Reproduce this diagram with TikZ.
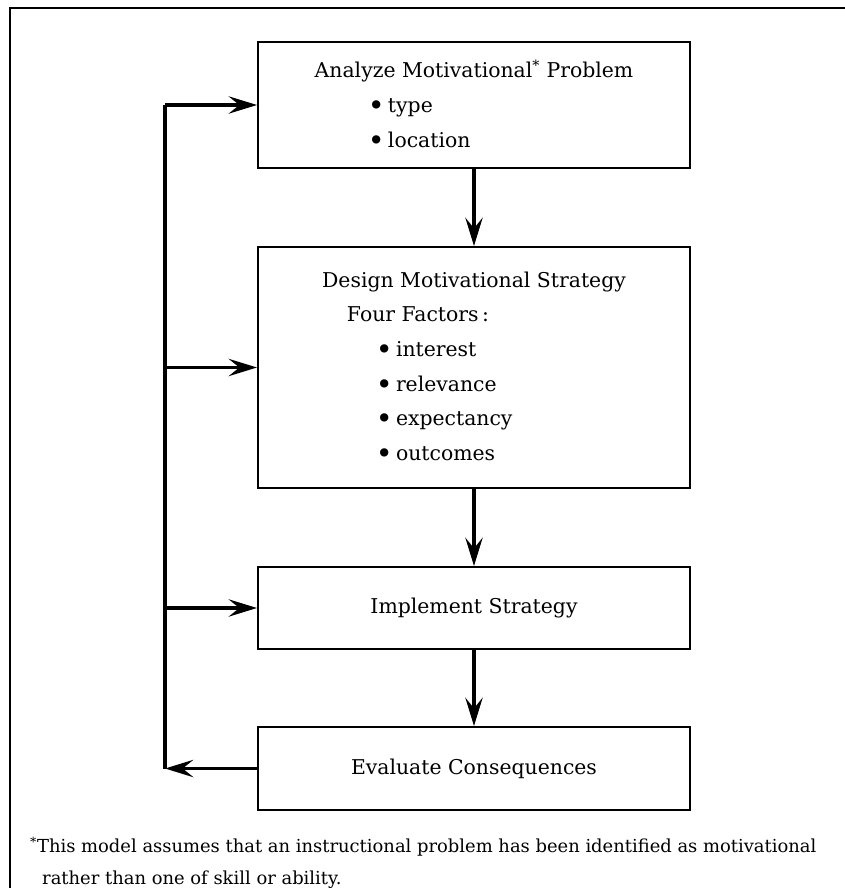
\documentclass[tikz,border=0pt]{standalone}
\usepackage{fontspec}
\setmainfont{DejaVu Serif}
\usetikzlibrary{arrows.meta}
\usetikzlibrary{positioning}

\newcommand{\bulitem}[2]{\makebox[#1][l]{\makebox[0.6cm][l]{\raisebox{-0.15em}{\scalebox{1.4}{\textbullet}}}#2}}

\begin{document}
\begin{tikzpicture}[x=0.03cm,y=-0.03cm,
  stage/.style={draw,line width=1.7pt,minimum width=12.96cm,inner sep=0pt,
    align=center,font=\fontsize{17.4}{29.6}\selectfont},
  flow/.style={line width=2.6pt,-{Stealth[length=8.5mm,width=5.2mm,inset=3.2mm]}},
  loop/.style={line width=2.6pt},
]
\useasboundingbox (0,0) rectangle (845,888);
\draw[line width=2.2pt] (10,888) -- (10,8) -- (845,8);

\node[stage,minimum height=3.78cm](analyze) at(474,105){Analyze Motivational\textsuperscript{*} Problem\\
  \bulitem{6.36cm}{type}\\ \bulitem{6.36cm}{location}};
\node[stage,minimum height=7.23cm](design) at(474,367.5){Design Motivational Strategy\\
  \makebox[7.62cm][l]{Four Factors\,:}\\
  \bulitem{5.88cm}{interest}\\ \bulitem{5.88cm}{relevance}\\
  \bulitem{5.88cm}{expectancy}\\ \bulitem{5.88cm}{outcomes}};
\node[stage,minimum height=2.46cm](implement) at(474,608){Implement Strategy};
\node[stage,minimum height=2.49cm](evaluate) at(474,768.5){Evaluate Consequences};

\coordinate(fbottom) at(165,768.5); \coordinate(ftop) at(165,105);
\coordinate(fdesign) at(165,367.5); \coordinate(fimpl) at(165,608);

\draw[flow](analyze)--(design); \draw[flow](design)--(implement);
\draw[flow](implement)--(evaluate);
\draw[flow](evaluate)--(fbottom); \draw[loop](fbottom)--(ftop);
\draw[flow](ftop)--(analyze); \draw[flow](fdesign)--(design);
\draw[flow](fimpl)--(implement);

\node[anchor=north west,align=left,inner sep=0pt,font=\fontsize{15.3}{27}\selectfont](note) at(30,837)
  {\textsuperscript{*}This model assumes that an instructional problem has been identified as motivational\\
  \hspace*{0.36cm}rather than one of skill or ability.};
\end{tikzpicture}
\end{document}
